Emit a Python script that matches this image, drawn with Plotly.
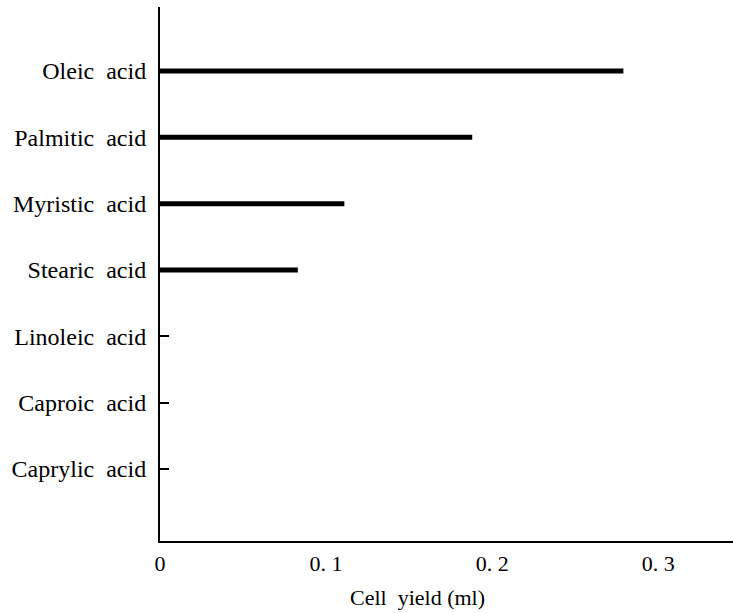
import plotly.graph_objects as go

# Fatty acids, listed bottom to top as they appear on the axis
acids = ["Caprylic acid", "Caproic acid", "Linoleic acid", "Stearic acid",
         "Myristic acid", "Palmitic acid", "Oleic acid"]
cell_yield = [0.0, 0.0, 0.0, 0.083, 0.111, 0.188, 0.279]

x_tickvals = [0, 0.1, 0.2, 0.3]
x_ticktext = ["0", "0. 1", "0. 2", "0. 3"]

font_family = "'Liberation Serif', 'Times New Roman', Times, serif"
labels = [a.replace(" ", "\u00a0\u00a0") for a in acids]

fig = go.Figure(
    go.Bar(
        x=cell_yield,
        y=labels,
        orientation="h",
        width=0.075,
        marker=dict(color="black", line=dict(width=0)),
    )
)

fig.update_layout(
    width=733,
    height=613,
    margin=dict(l=160, r=0, t=7, b=72),
    paper_bgcolor="white",
    plot_bgcolor="white",
    showlegend=False,
    font=dict(family=font_family, size=22, color="black"),
    xaxis=dict(
        range=[0, 0.345],
        tickvals=x_tickvals,
        ticktext=x_ticktext,
        tickfont=dict(family=font_family, size=22),
        showgrid=False,
        zeroline=False,
        showline=True,
        linecolor="black",
        linewidth=1.5,
        ticks="",
        ticklabelstandoff=2,
    ),
    yaxis=dict(
        categoryorder="array",
        categoryarray=labels,
        range=[-1.086, 6.965],
        tickfont=dict(family=font_family, size=24),
        showgrid=False,
        zeroline=False,
        showline=True,
        linecolor="black",
        linewidth=2,
        ticks="inside",
        ticklen=9,
        tickwidth=2,
        tickcolor="black",
        ticklabelstandoff=7,
    ),
    annotations=[
        dict(
            text="Cell\u00a0\u00a0yield\u00a0(ml)",
            xref="paper", yref="paper",
            x=0.45, y=0,
            xanchor="center", yanchor="middle",
            yshift=-56,
            showarrow=False,
            font=dict(family=font_family, size=22, color="black"),
        )
    ],
)

fig.write_html("out.html")
